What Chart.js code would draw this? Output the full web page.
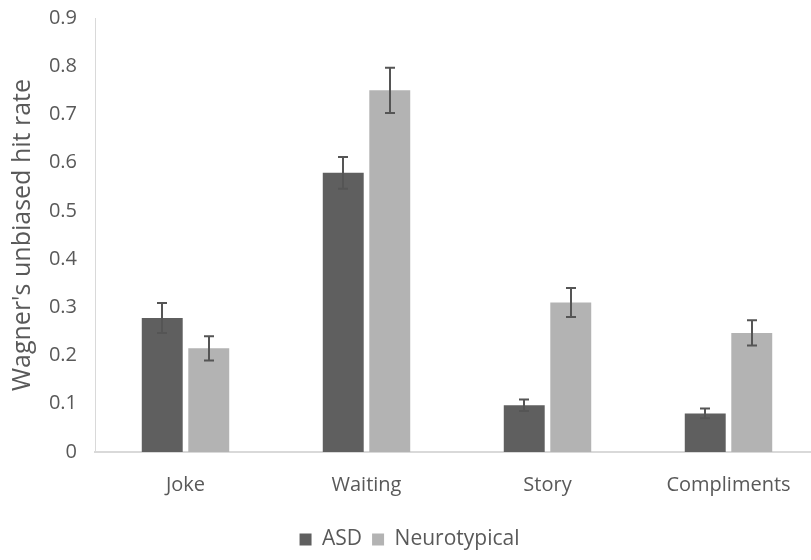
<!DOCTYPE html>
<html>
<head>
<meta charset="utf-8">
<script src="https://cdn.jsdelivr.net/npm/chart.js@4.4.1/dist/chart.umd.min.js"></script>
<style>
  html, body { margin: 0; padding: 0; background: #ffffff; overflow: hidden; }
  #wrap { width: 824px; height: 560px; }
</style>
</head>
<body>
<div id="wrap"><canvas id="chart" width="824" height="560"></canvas></div>
<script>
// Categories and group means with their error margins
const categories = ['Joke', 'Waiting', 'Story', 'Compliments'];
const asdMeans = [0.278, 0.579, 0.097, 0.080];
const asdErrors = [0.031, 0.033, 0.012, 0.010];
const ntMeans = [0.215, 0.750, 0.310, 0.247];
const ntErrors = [0.025, 0.047, 0.030, 0.026];
const seriesNames = ['ASD', 'Neurotypical'];
const yTickValues = [0, 0.1, 0.2, 0.3, 0.4, 0.5, 0.6, 0.7, 0.8, 0.9];

const textColor = '#595959';
const fontFamily = '"Open Sans", "Liberation Sans", sans-serif';

// Draws +/- error whiskers on top of each bar
const errorBars = {
  id: 'errorBars',
  afterDatasetsDraw(chart) {
    const ctx = chart.ctx;
    const yScale = chart.scales.y;
    ctx.save();
    ctx.strokeStyle = '#555555';
    ctx.lineWidth = 2;
    chart.data.datasets.forEach((ds, di) => {
      const meta = chart.getDatasetMeta(di);
      meta.data.forEach((bar, i) => {
        const v = ds.data[i];
        const e = ds.errors[i];
        const yTop = yScale.getPixelForValue(v + e);
        const yBot = yScale.getPixelForValue(v - e);
        const x = Math.round(bar.x);
        const cap = 5;
        ctx.beginPath();
        ctx.moveTo(x, yTop);
        ctx.lineTo(x, yBot);
        ctx.moveTo(x - cap, yTop);
        ctx.lineTo(x + cap, yTop);
        ctx.moveTo(x - cap, yBot);
        ctx.lineTo(x + cap, yBot);
        ctx.stroke();
      });
    });
    ctx.restore();
  }
};

new Chart(document.getElementById('chart'), {
  type: 'bar',
  data: {
    labels: categories,
    datasets: [
      {
        label: seriesNames[0],
        data: asdMeans,
        errors: asdErrors,
        backgroundColor: '#5f5f5f',
        categoryPercentage: 0.514,
        barPercentage: 0.88
      },
      {
        label: seriesNames[1],
        data: ntMeans,
        errors: ntErrors,
        backgroundColor: '#b3b3b3',
        categoryPercentage: 0.514,
        barPercentage: 0.88
      }
    ]
  },
  options: {
    responsive: false,
    animation: false,
    layout: { padding: { top: 18, right: 5, bottom: 0, left: 0 } },
    plugins: {
      tooltip: { enabled: false },
      legend: {
        position: 'bottom',
        labels: {
          boxWidth: 12,
          boxHeight: 12,
          padding: 10,
          color: textColor,
          font: { family: fontFamily, size: 21 }
        }
      }
    },
    scales: {
      x: {
        grid: { display: false, drawTicks: false },
        border: { display: true, color: '#d9d9d9', width: 2 },
        ticks: { color: textColor, padding: 21, font: { family: fontFamily, size: 20 } },
        afterFit(scale) {
          scale.height = 67;
          scale.paddingLeft = 0;
          scale.paddingRight = 0;
        }
      },
      y: {
        min: 0,
        max: 0.9,
        afterBuildTicks(scale) { scale.ticks = yTickValues.map(v => ({ value: v })); },
        grid: { display: false, drawTicks: false },
        border: { display: true, color: '#d9d9d9', width: 1 },
        ticks: {
          color: textColor,
          padding: 18,
          font: { family: fontFamily, size: 20 },
          callback: v => (v === 0 ? '0' : v.toFixed(1))
        },
        title: {
          display: true,
          text: "Wagner's unbiased hit rate",
          color: textColor,
          padding: { top: 8, bottom: 0 },
          font: { family: fontFamily, size: 25 }
        },
        afterFit(scale) {
          scale.width = 95;
          scale.paddingTop = 0;
          scale.paddingBottom = 0;
        }
      }
    }
  },
  plugins: [errorBars]
});
</script>
</body>
</html>
